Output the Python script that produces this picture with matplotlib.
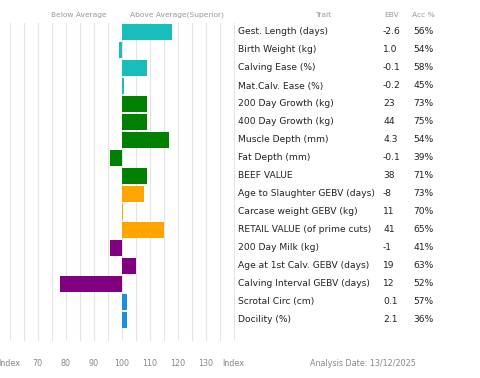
import numpy as np
import matplotlib
matplotlib.use('Agg')
import matplotlib.pyplot as plt
import matplotlib.transforms as mtransforms

# traits, EBVs, accuracy and index value (bar end) for each trait
traits = ['Gest. Length (days)', 'Birth Weight (kg)', 'Calving Ease (%)',
          'Mat.Calv. Ease (%)', '200 Day Growth (kg)', '400 Day Growth (kg)',
          'Muscle Depth (mm)', 'Fat Depth (mm)', 'BEEF VALUE',
          'Age to Slaughter GEBV (days)', 'Carcase weight GEBV (kg)',
          'RETAIL VALUE (of prime cuts)', '200 Day Milk (kg)',
          'Age at 1st Calv. GEBV (days)', 'Calving Interval GEBV (days)',
          'Scrotal Circ (cm)', 'Docility (%)']
ebv = ['-2.6', '1.0', '-0.1', '-0.2', '23', '44', '4.3', '-0.1', '38',
       '-8', '11', '41', '-1', '19', '12', '0.1', '2.1']
acc = ['56%', '54%', '58%', '45%', '73%', '75%', '54%', '39%', '71%',
       '73%', '70%', '65%', '41%', '63%', '52%', '57%', '36%']
index_val = [118, 99, 109, 101, 109, 109, 117, 96, 109,
             108, 100.5, 115, 96, 105, 78, 102, 102]
groups = ['calv', 'calv', 'calv', 'calv', 'grow', 'grow', 'grow', 'grow',
          'grow', 'carc', 'carc', 'carc', 'fert', 'fert', 'fert', 'other', 'other']

tick_pos = [60, 70, 80, 90, 100, 110, 120, 130, 140]
tick_lab = ['Index', '70', '80', '90', '100', '110', '120', '130', 'Index']

group_col = {'calv': '#17BEBB', 'grow': '#008000', 'carc': '#FFA500',
             'fert': '#800080', 'other': '#1A90E3'}

W, H = 480, 378
fig = plt.figure(figsize=(W / 100, H / 100), dpi=100)

# axes placed so 100 sits at x=121.7px, 10 units = 28px
x0, x1 = 57, 143
px_per = 2.8
left_px = 121.7 - (100 - x0) * px_per
width_px = (x1 - x0) * px_per
top_px, bot_px = 23, 341
ax = fig.add_axes([left_px / W, 1 - bot_px / H, width_px / W, (bot_px - top_px) / H])

n = len(traits)
y = np.arange(n)
cols = [group_col[g] for g in groups]
ax.barh(y, np.array(index_val) - 100, left=100, height=0.88, color=cols, zorder=3)

for g in range(60, 141, 5):
    ax.axvline(g, color='#e4e4e4', lw=0.8, zorder=1)

ax.set_xlim(x0, x1)
ax.set_ylim(n - 0.5 + 12 / 18, -0.5)
ax.set_yticks([])
ax.set_xticks(tick_pos)
ax.set_xticklabels(tick_lab, fontsize=5.8, color='#888888')
ax.tick_params(axis='x', length=0, pad=13)
for s in ax.spines.values():
    s.set_visible(False)

# table to the right, rows tied to the bar rows
tr = mtransforms.blended_transform_factory(fig.transFigure, ax.transData)
for i in range(n):
    ax.text(238 / W, i, traits[i], transform=tr, fontsize=6.6, color='#222222',
            va='center', ha='left', clip_on=False)
    ax.text(383 / W, i, ebv[i], transform=tr, fontsize=6.6, color='#222222',
            va='center', ha='left', clip_on=False)
    ax.text(413 / W, i, acc[i], transform=tr, fontsize=6.6, color='#222222',
            va='center', ha='left', clip_on=False)

hy = 1 - 15 / H
fig.text(79 / W, hy, 'Below Average', fontsize=5.4, color='#999999', ha='center', va='center')
fig.text(177 / W, hy, 'Above Average(Superior)', fontsize=5.4, color='#999999', ha='center', va='center')
fig.text(323 / W, hy, 'Trait', fontsize=5.4, color='#999999', ha='center', va='center')
fig.text(392 / W, hy, 'EBV', fontsize=5.4, color='#999999', ha='center', va='center')
fig.text(423 / W, hy, 'Acc %', fontsize=5.4, color='#999999', ha='center', va='center')
fig.text(363 / W, 1 - 363 / H, 'Analysis Date: 13/12/2025', fontsize=5.8,
         color='#888888', ha='center', va='center')

fig.savefig('out.png', dpi=100)
